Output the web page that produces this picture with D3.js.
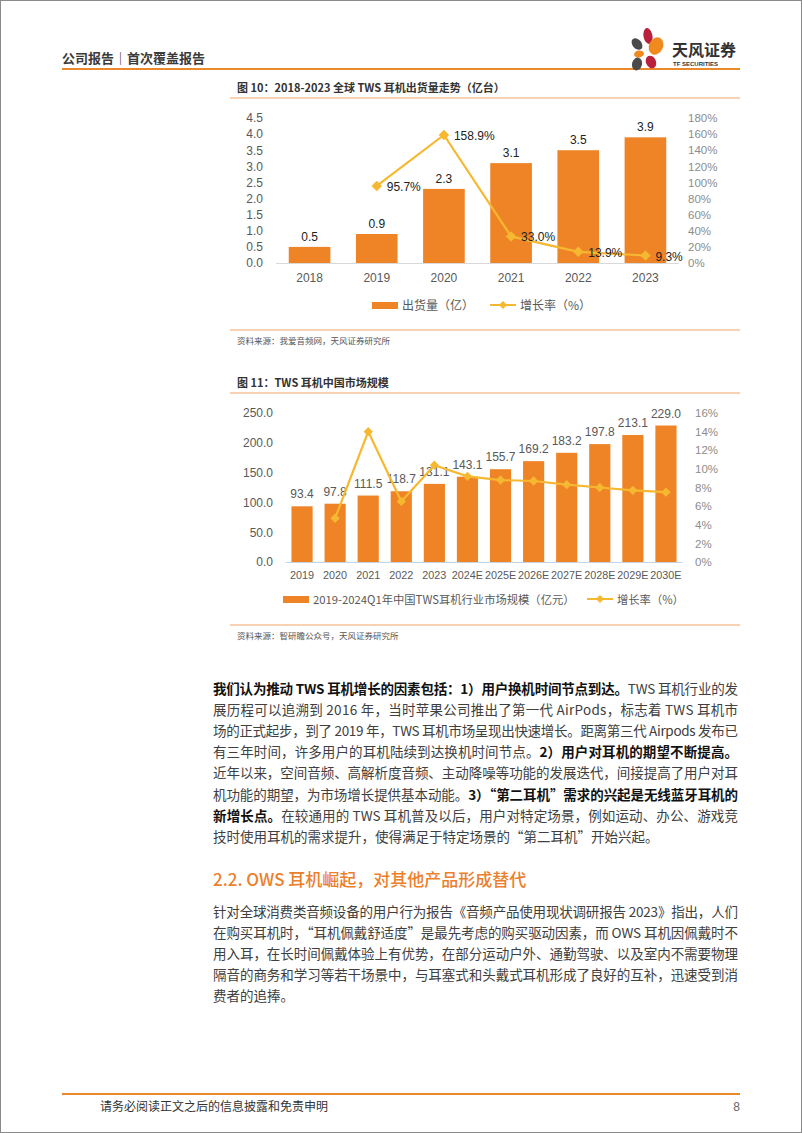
<!DOCTYPE html>
<html><head><meta charset="utf-8">
<script src="https://cdn.jsdelivr.net/npm/d3@7"></script>
<style>
html,body{margin:0;padding:0;background:#fff;}
svg{display:block;}
text{font-family:"Noto Sans CJK SC","Noto Sans",sans-serif;}
.num{font-family:"Liberation Sans",Arial,sans-serif;}
.narrow{font-family:"Liberation Sans Narrow","Liberation Sans",sans-serif;}
</style></head>
<body>
<svg id="page" width="802" height="1133"></svg>
<script>
// ---------- data ----------
const years1 = ["2018","2019","2020","2021","2022","2023"];
const shipments = [0.5,0.9,2.3,3.1,3.5,3.9];
const growth1 = [null,95.7,158.9,33.0,13.9,9.3];
const leftTicks1 = [0,0.5,1,1.5,2,2.5,3,3.5,4,4.5];
const rightTicks1 = [0,20,40,60,80,100,120,140,160,180];

const years2 = ["2019","2020","2021","2022","2023","2024E","2025E","2026E","2027E","2028E","2029E","2030E"];
const market = [93.4,97.8,111.5,118.7,131.1,143.1,155.7,169.2,183.2,197.8,213.1,229.0];
const growth2 = [null,4.7,14.0,6.5,10.4,9.2,8.8,8.7,8.3,8.0,7.7,7.5];
const leftTicks2 = [0,50,100,150,200,250];
const rightTicks2 = [0,2,4,6,8,10,12,14,16];

const BAR = "#EF8427", LINE = "#F6B830", ORANGE_RULE = "#E9892C";

const svg = d3.select("#page");
svg.append("rect").attr("x",0.5).attr("y",0.5).attr("width",801).attr("height",1132)
  .attr("fill","#fff").attr("stroke","#8a8a8a").attr("stroke-width",1);

// ---------- header ----------
svg.append("text").attr("x",62).attr("y",63).attr("font-size",13).attr("font-weight",700)
  .attr("fill","#3a3a3a").text("公司报告｜首次覆盖报告");
svg.append("line").attr("x1",62).attr("x2",740).attr("y1",69).attr("y2",69)
  .attr("stroke",ORANGE_RULE).attr("stroke-width",2);
// logo petals
const logo = svg.append("g");
const petals = [
  {cx:648,cy:36,rx:4.5,ry:8,rot:-10,c:"#B8203B"},
  {cx:637,cy:44,rx:4.5,ry:6.5,rot:-40,c:"#4a4a4a"},
  {cx:656,cy:46,rx:7,ry:9,rot:25,c:"#F08A1E"},
  {cx:639,cy:54,rx:5,ry:3.5,rot:-10,c:"#F08A1E"},
  {cx:637,cy:64,rx:5,ry:6.5,rot:15,c:"#4a4a4a"},
  {cx:651,cy:62,rx:5,ry:6.5,rot:-25,c:"#B8203B"}
];
logo.selectAll("ellipse").data(petals).join("ellipse")
  .attr("cx",d=>d.cx).attr("cy",d=>d.cy).attr("rx",d=>d.rx).attr("ry",d=>d.ry)
  .attr("transform",d=>`rotate(${d.rot},${d.cx},${d.cy})`).attr("fill",d=>d.c);
svg.append("text").attr("x",672).attr("y",56).attr("font-size",16).attr("font-weight",700)
  .attr("fill","#333").text("天风证券");
svg.append("text").attr("x",673).attr("y",66).attr("font-size",6).attr("font-weight",700)
  .attr("class","num").attr("fill","#333").text("TF SECURITIES");

// ---------- chart helper ----------
function chart(opt){
  const g = svg.append("g");
  g.append("text").attr("x",237).attr("y",opt.titleY).attr("font-size",11).attr("font-weight",700)
    .attr("fill","#333").text(opt.title);
  g.append("line").attr("x1",230).attr("x2",740).attr("y1",opt.titleY+6).attr("y2",opt.titleY+6)
    .attr("stroke","#F1A46A").attr("stroke-width",1);

  const x = d3.scaleBand().domain(opt.cats).range(opt.xr).paddingInner(opt.pad).paddingOuter(opt.pad/2);
  const y = d3.scaleLinear().domain([0,opt.ymax]).range([opt.y0,opt.y1]);
  const y2 = d3.scaleLinear().domain([0,opt.y2max]).range([opt.y0,opt.y1]);

  // left axis
  const la = g.append("g").attr("transform",`translate(${opt.lx},0)`)
    .call(d3.axisLeft(y).tickValues(opt.lt).tickSize(0).tickPadding(0).tickFormat(d3.format(opt.lfmt)));
  la.select(".domain").remove();
  la.selectAll("text").attr("font-size",12).attr("fill","#595959").attr("class","num");
  // right axis
  const ra = g.append("g").attr("transform",`translate(${opt.rx},0)`)
    .call(d3.axisRight(y2).tickValues(opt.rt).tickSize(0).tickPadding(0).tickFormat(d=>d+"%"));
  ra.select(".domain").remove();
  ra.selectAll("text").attr("font-size",11.5).attr("fill","#8c8c8c").attr("class","narrow");

  // bars
  g.selectAll("rect.bar").data(opt.vals).join("rect").attr("class","bar")
    .attr("x",(d,i)=>x(opt.cats[i])).attr("width",x.bandwidth())
    .attr("y",d=>y(d)).attr("height",d=>opt.y0-y(d)).attr("fill",BAR);
  // x axis line
  g.append("line").attr("x1",opt.xr[0]).attr("x2",opt.xr[1]).attr("y1",opt.y0+0.5).attr("y2",opt.y0+0.5)
    .attr("stroke",opt.axisColor).attr("stroke-width",1);
  // x labels
  const xa = g.append("g").attr("transform",`translate(0,${opt.y0})`)
    .call(d3.axisBottom(x).tickSize(0).tickPadding(opt.xpad));
  xa.select(".domain").remove();
  xa.selectAll("text").attr("font-size",opt.xfs).attr("fill","#595959").attr("class","num");

  // bar labels
  g.selectAll("text.bl").data(opt.vals).join("text").attr("class","bl num")
    .attr("x",(d,i)=>x(opt.cats[i])+x.bandwidth()/2).attr("y",d=>y(d)-opt.blOff)
    .attr("text-anchor","middle").attr("font-size",12).attr("fill",opt.blColor)
    .text(d=>d3.format(".1f")(d));

  // line
  const pts = opt.growth.map((v,i)=>({v,c:opt.cats[i]})).filter(d=>d.v!=null);
  const line = d3.line().x(d=>x(d.c)+x.bandwidth()/2).y(d=>y2(d.v));
  g.append("path").datum(pts).attr("d",line).attr("fill","none").attr("stroke",LINE).attr("stroke-width",2.2);
  const sym = d3.symbol().type(d3.symbolDiamond2).size(opt.msize);
  g.selectAll("path.mk").data(pts).join("path").attr("class","mk")
    .attr("transform",d=>`translate(${x(d.c)+x.bandwidth()/2},${y2(d.v)})`)
    .attr("d",sym).attr("fill",LINE);
  if(opt.lineLabels){
    g.selectAll("text.ll").data(pts).join("text").attr("class","ll num")
      .attr("x",d=>x(d.c)+x.bandwidth()/2+10).attr("y",d=>y2(d.v)+5)
      .attr("font-size",12).attr("fill","#222").text(d=>d3.format(".1f")(d.v)+"%");
  }

  // legend
  const L = opt.legend;
  g.append("rect").attr("x",L.bx).attr("y",L.y-3).attr("width",26).attr("height",7).attr("fill",BAR);
  g.append("text").attr("x",L.bx+30).attr("y",L.y+4.5).attr("font-size",L.fs).attr("fill","#595959").text(L.bt);
  g.append("line").attr("x1",L.lx).attr("x2",L.lx+26).attr("y1",L.y).attr("y2",L.y)
    .attr("stroke",LINE).attr("stroke-width",2);
  g.append("path").attr("transform",`translate(${L.lx+13},${L.y})`).attr("d",d3.symbol().type(d3.symbolDiamond2).size(40)()).attr("fill",LINE);
  g.append("text").attr("x",L.lx+30).attr("y",L.y+4.5).attr("font-size",L.fs).attr("fill","#595959").text(L.lt);

  // bottom rule + source
  g.append("line").attr("x1",230).attr("x2",740).attr("y1",opt.srcY-11).attr("y2",opt.srcY-11)
    .attr("stroke","#F1A46A").attr("stroke-width",1);
  g.append("text").attr("x",237).attr("y",opt.srcY+3).attr("font-size",8.5).attr("fill","#555").text(opt.src);
}

chart({
  title:"图 10：2018-2023 全球 TWS 耳机出货量走势（亿台）", titleY:92,
  cats:years1, vals:shipments, growth:growth1,
  xr:[276,679], pad:0.38, y0:263, y1:118, ymax:4.5, y2max:180,
  lt:leftTicks1, rt:rightTicks1, lfmt:".1f", lx:263, rx:688,
  axisColor:"#d9d9d9", xpad:10, xfs:12, blOff:6, blColor:"#222", msize:70, lineLabels:true,
  legend:{y:305, bx:372, bt:"出货量（亿）", lx:490, lt:"增长率（%）", fs:12},
  src:"资料来源：我爱音频网，天风证券研究所", srcY:341
});

chart({
  title:"图 11：TWS 耳机中国市场规模", titleY:387,
  cats:years2, vals:market, growth:growth2,
  xr:[285.5,682.5], pad:0.36, y0:562, y1:413, ymax:250, y2max:16,
  lt:leftTicks2, rt:rightTicks2, lfmt:".1f", lx:273, rx:695,
  axisColor:"#c5d3e6", xpad:9, xfs:10.8, blOff:8, blColor:"#595959", msize:55, lineLabels:false,
  legend:{y:599, bx:283, bt:"2019-2024Q1年中国TWS耳机行业市场规模（亿元）", lx:587, lt:"增长率（%）", fs:11.3},
  src:"资料来源：智研瞻公众号，天风证券研究所", srcY:636
});

// ---------- body text ----------
function para(lines, x, y0, lh, width){
  lines.forEach((segs,i)=>{
    const t = svg.append("text").attr("x",x).attr("y",y0+i*lh).attr("font-size",13.5);
    if(segs.justify!==false){ t.attr("textLength",width).attr("lengthAdjust","spacing"); }
    segs.s.forEach(s=>{
      t.append("tspan").attr("font-weight",s[1]?700:400).attr("fill",s[1]?"#111":"#404040").text(s[0]);
    });
  });
}
para([
  {s:[["我们认为推动 TWS 耳机增长的因素包括：1）用户换机时间节点到达。",1],["TWS 耳机行业的发",0]]},
  {s:[["展历程可以追溯到 2016 年，当时苹果公司推出了第一代 AirPods，标志着 TWS 耳机市",0]]},
  {s:[["场的正式起步，到了 2019 年，TWS 耳机市场呈现出快速增长。距离第三代 Airpods 发布已",0]]},
  {s:[["有三年时间，许多用户的耳机陆续到达换机时间节点。",0],["2）用户对耳机的期望不断提高。",1]]},
  {s:[["近年以来，空间音频、高解析度音频、主动降噪等功能的发展迭代，间接提高了用户对耳",0]]},
  {s:[["机功能的期望，为市场增长提供基本动能。",0],["3）“第二耳机”需求的兴起是无线蓝牙耳机的",1]]},
  {s:[["新增长点。",1],["在较通用的 TWS 耳机普及以后，用户对特定场景，例如运动、办公、游戏竞",0]]},
  {s:[["技时使用耳机的需求提升，使得满足于特定场景的“第二耳机”开始兴起。",0]], justify:false}
], 213, 694, 21.1, 525);

svg.append("text").attr("x",213).attr("y",886).attr("font-size",17).attr("font-weight",500)
  .attr("fill","#EC7F2C").text("2.2. OWS 耳机崛起，对其他产品形成替代");

para([
  {s:[["针对全球消费类音频设备的用户行为报告《音频产品使用现状调研报告 2023》指出，人们",0]]},
  {s:[["在购买耳机时，“耳机佩戴舒适度”是最先考虑的购买驱动因素，而 OWS 耳机因佩戴时不",0]]},
  {s:[["用入耳，在长时间佩戴体验上有优势，在部分运动户外、通勤驾驶、以及室内不需要物理",0]]},
  {s:[["隔音的商务和学习等若干场景中，与耳塞式和头戴式耳机形成了良好的互补，迅速受到消",0]]},
  {s:[["费者的追捧。",0]], justify:false}
], 213, 917, 21.1, 525);

// ---------- footer ----------
svg.append("line").attr("x1",62).attr("x2",740).attr("y1",1094).attr("y2",1094)
  .attr("stroke",ORANGE_RULE).attr("stroke-width",2);
svg.append("text").attr("x",100).attr("y",1111).attr("font-size",12).attr("fill","#333")
  .text("请务必阅读正文之后的信息披露和免责申明");
svg.append("text").attr("x",740).attr("y",1111).attr("font-size",12).attr("text-anchor","end")
  .attr("class","num").attr("fill","#666").text("8");
</script>
</body></html>
